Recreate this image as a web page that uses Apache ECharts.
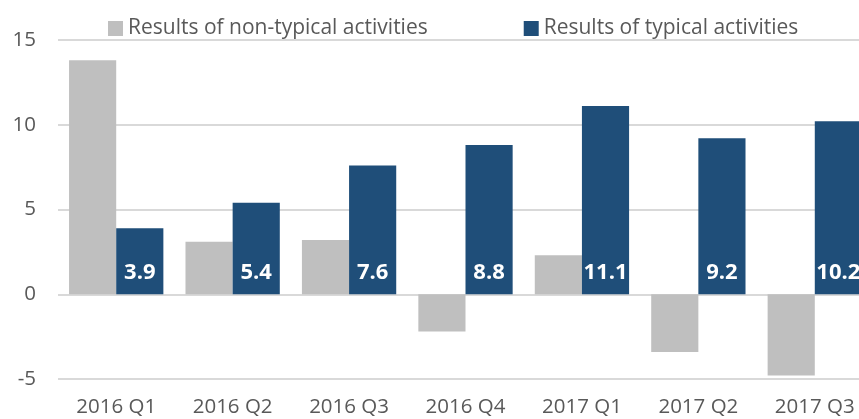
<!DOCTYPE html>
<html><head><meta charset="utf-8">
<script src="https://cdn.jsdelivr.net/npm/echarts@6/dist/echarts.min.js"></script>
<style>html,body{margin:0;padding:0;background:#fff;overflow:hidden;width:859px;height:419px}#c{width:873px;height:419px}</style>
</head><body><div id="c"></div>
<script>
const categories = ['2016 Q1','2016 Q2','2016 Q3','2016 Q4','2017 Q1','2017 Q2','2017 Q3'];
const nonTypical = [13.8, 3.1, 3.2, -2.2, 2.3, -3.4, -4.8];
const typical = [3.9, 5.4, 7.6, 8.8, 11.1, 9.2, 10.2];
const seriesNames = ['Results of non-typical activities', 'Results of typical activities'];
const yTicks = {min: -5, max: 15, interval: 5};

const FONT = '"Open Sans", sans-serif';
const chart = echarts.init(document.getElementById('c'), null, {renderer: 'canvas'});
chart.setOption({
  animation: false,
  textStyle: {fontFamily: FONT},
  legend: {
    left: 103, top: 13, itemWidth: 15, itemHeight: 15, itemGap: 96, icon: 'rect',
    textStyle: {color: '#595959', fontSize: 21, fontFamily: FONT},
    data: seriesNames
  },
  grid: {left: 58, top: 40, bottom: 40, right: 0, containLabel: false},
  xAxis: {
    type: 'category', data: categories,
    axisLine: {show: false}, axisTick: {show: false},
    axisLabel: {color: '#595959', fontSize: 20.5, fontFamily: FONT, margin: 18}
  },
  yAxis: {
    type: 'value', min: yTicks.min, max: yTicks.max, interval: yTicks.interval,
    axisLine: {show: false}, axisTick: {show: false},
    splitLine: {lineStyle: {color: '#d9d9d9', width: 2}},
    axisLabel: {color: '#595959', fontSize: 20.5, fontFamily: FONT, margin: 22}
  },
  series: [
    {name: seriesNames[0], type: 'bar', data: nonTypical, itemStyle: {color: '#bfbfbf'},
     barGap: '0%', barCategoryGap: '19%'},
    {name: seriesNames[1], type: 'bar', data: typical, itemStyle: {color: '#1f4e79'},
     barGap: '0%', barCategoryGap: '19%',
     label: {show: true, position: 'insideBottom', distance: 11, color: '#fff',
             fontWeight: 'bold', fontSize: 22, fontFamily: FONT,
             formatter: p => p.value.toFixed(1)}}
  ]
});
</script></body></html>
